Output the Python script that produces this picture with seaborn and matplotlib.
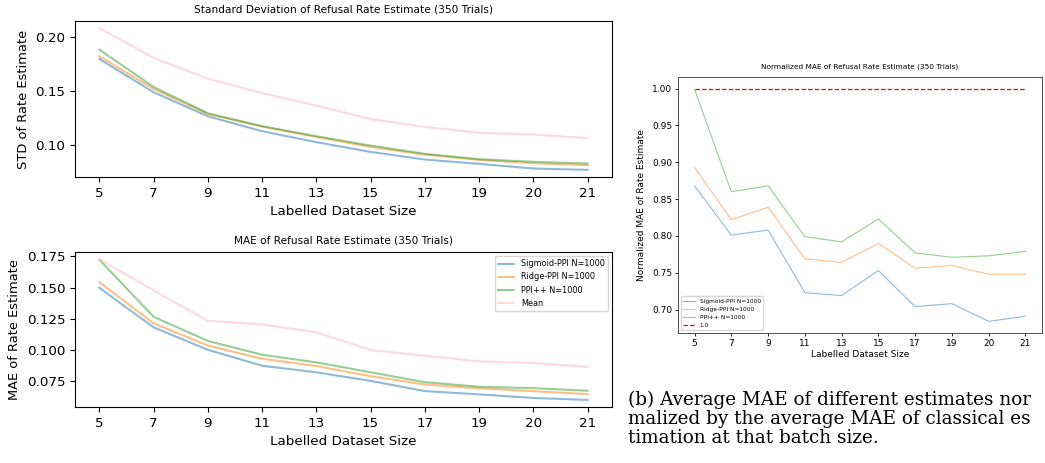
import matplotlib
matplotlib.use("Agg")
import matplotlib.pyplot as plt
import seaborn as sns

# ---- data ----
sizes = ["5", "7", "9", "11", "13", "15", "17", "19", "20", "21"]

std_sigmoid = [0.1796, 0.1488, 0.1265, 0.1127, 0.1025, 0.0935, 0.0864, 0.0824, 0.0781, 0.0768]
std_ridge = [0.1821, 0.1519, 0.1287, 0.1170, 0.1074, 0.0981, 0.0910, 0.0861, 0.0830, 0.0812]
std_ppipp = [0.1883, 0.1537, 0.1293, 0.1173, 0.1080, 0.0994, 0.0917, 0.0867, 0.0843, 0.0827]
std_mean = [0.2083, 0.1806, 0.1614, 0.1480, 0.1364, 0.1240, 0.1167, 0.1111, 0.1096, 0.1062]

mae_sigmoid = [0.1498, 0.1180, 0.1000, 0.0872, 0.0819, 0.0750, 0.0668, 0.0642, 0.0613, 0.0597]
mae_ridge = [0.1543, 0.1212, 0.1034, 0.0928, 0.0870, 0.0788, 0.0721, 0.0690, 0.0668, 0.0644]
mae_ppipp = [0.1723, 0.1265, 0.1071, 0.0960, 0.0899, 0.0819, 0.0740, 0.0703, 0.0692, 0.0671]
mae_mean = [0.1729, 0.1477, 0.1233, 0.1204, 0.1140, 0.0999, 0.0952, 0.0907, 0.0894, 0.0862]

norm_sigmoid = [0.868, 0.801, 0.808, 0.723, 0.719, 0.753, 0.704, 0.708, 0.684, 0.691]
norm_ridge = [0.893, 0.822, 0.839, 0.769, 0.764, 0.790, 0.756, 0.760, 0.748, 0.748]
norm_ppipp = [0.999, 0.860, 0.868, 0.799, 0.792, 0.823, 0.777, 0.771, 0.773, 0.779]
norm_ref = [1.0] * len(sizes)

labels = ["Sigmoid-PPI N=1000", "Ridge-PPI N=1000", "PPI++ N=1000", "Mean"]
colors = ["tab:blue", "tab:orange", "tab:green", "pink"]

fig = plt.figure(figsize=(10.45, 4.63), dpi=100)
W, H = 1045, 463


def box(l, t, r, b):
    return [l / W, 1 - b / H, (r - l) / W, (b - t) / H]


# ---- left: STD ----
ax1 = fig.add_axes(box(75, 21, 612, 177))
for vals, lab, c in zip([std_sigmoid, std_ridge, std_ppipp, std_mean], labels, colors):
    sns.lineplot(x=sizes, y=vals, ax=ax1, color=c, alpha=0.5 if c != "pink" else 0.6,
                 linewidth=1.5, label=lab)
if ax1.get_legend():
    ax1.get_legend().remove()
ax1.set_title("Standard Deviation of Refusal Rate Estimate (350 Trials)", fontsize=7.6)
ax1.set_xlabel("Labelled Dataset Size", fontsize=9.7)
ax1.set_ylabel("STD of Rate Estimate", fontsize=9.4)
ax1.tick_params(labelsize=9.7)

# ---- left: MAE ----
ax2 = fig.add_axes(box(75, 252, 612, 407))
for vals, lab, c in zip([mae_sigmoid, mae_ridge, mae_ppipp, mae_mean], labels, colors):
    sns.lineplot(x=sizes, y=vals, ax=ax2, color=c, alpha=0.5 if c != "pink" else 0.6,
                 linewidth=1.5, label=lab)
ax2.legend(loc="upper right", fontsize=5.9)
ax2.set_title("MAE of Refusal Rate Estimate (350 Trials)", fontsize=7.6)
ax2.set_xlabel("Labelled Dataset Size", fontsize=9.7)
ax2.set_ylabel("MAE of Rate Estimate", fontsize=9.4)
ax2.tick_params(labelsize=9.7)

# ---- right: normalized MAE ----
ax3 = fig.add_axes(box(678, 77, 1042, 333))
for vals, lab, c in zip([norm_sigmoid, norm_ridge, norm_ppipp], labels[:3], colors[:3]):
    sns.lineplot(x=sizes, y=vals, ax=ax3, color=c, alpha=0.5, linewidth=0.8, label=lab)
sns.lineplot(x=sizes, y=norm_ref, ax=ax3, color="red", linestyle="--", linewidth=0.9, label="1.0")
ax3.legend(loc="lower left", fontsize=4.2)
ax3.set_title("Normalized MAE of Refusal Rate Estimate (350 Trials)", fontsize=5.3)
ax3.set_xlabel("Labelled Dataset Size", fontsize=6.5)
ax3.set_ylabel("Normalized MAE of Rate Estimate", fontsize=6.5)
ax3.tick_params(labelsize=6.5, length=2.2, width=0.6, pad=2)
for s in ax3.spines.values():
    s.set_linewidth(0.6)
    s.set_color("#333333")
ax3.xaxis.labelpad = 1.5

# ---- caption ----
cap = ["(b) Average MAE of different estimates nor",
       "malized by the average MAE of classical es",
       "timation at that batch size."]
for i, line in enumerate(cap):
    fig.text(628 / W, 1 - (405 + 19.2 * i) / H, line, fontsize=13.2,
             family="DejaVu Serif", va="baseline", ha="left")

fig.savefig("out.png", dpi=100)
